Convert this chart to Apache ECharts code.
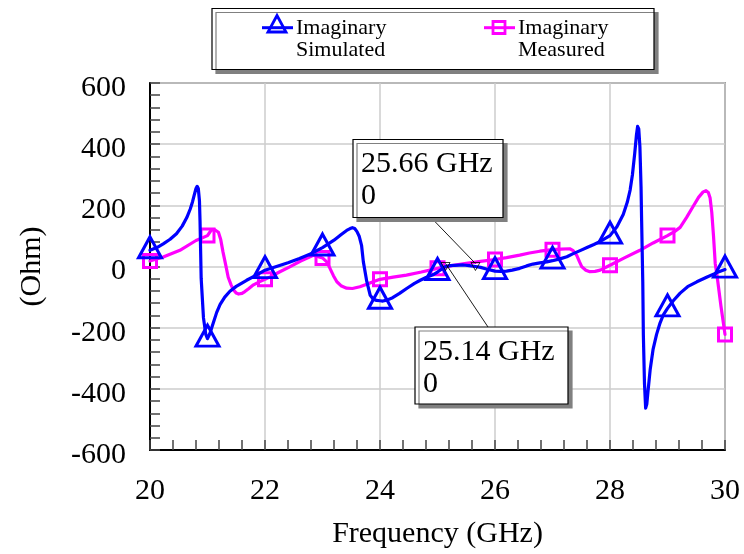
<!DOCTYPE html>
<html>
<head>
<meta charset="utf-8">
<script src="https://cdn.jsdelivr.net/npm/echarts@6/dist/echarts.min.js"></script>
<style>html,body{margin:0;padding:0;background:#fff}#c{width:744px;height:554px}</style>
</head>
<body>
<div id="c"></div>
<script>
// ---- data ----
const simFreq = [20.0, 20.12, 20.23, 20.35, 20.46, 20.56, 20.64, 20.7, 20.74, 20.77, 20.8, 20.82, 20.84, 20.86, 20.87, 20.89, 20.93, 20.97, 21.0, 21.04, 21.1, 21.16, 21.22, 21.3, 21.39, 21.5, 21.68, 21.85, 22.0, 22.2, 22.4, 22.6, 22.8, 23.0, 23.2, 23.32, 23.42, 23.48, 23.52, 23.56, 23.6, 23.64, 23.68, 23.71, 23.77, 23.83, 23.88, 23.94, 24.0, 24.05, 24.12, 24.22, 24.34, 24.47, 24.6, 24.7, 24.8, 24.92, 25.0, 25.07, 25.14, 25.22, 25.3, 25.45, 25.55, 25.66, 25.75, 25.85, 26.0, 26.1, 26.2, 26.3, 26.43, 26.55, 26.66, 26.78, 26.9, 27.0, 27.13, 27.25, 27.36, 27.48, 27.6, 27.72, 27.83, 28.0, 28.12, 28.23, 28.3, 28.35, 28.39, 28.43, 28.46, 28.48, 28.5, 28.52, 28.54, 28.55, 28.57, 28.58, 28.6, 28.62, 28.64, 28.66, 28.7, 28.75, 28.81, 28.87, 28.93, 29.0, 29.1, 29.22, 29.35, 29.51, 29.68, 29.86, 30.0];
const simValues = [53, 62, 74, 89, 107, 132, 160, 188, 212, 234, 255, 262, 255, 215, 150, -39, -168, -222, -236, -220, -185, -150, -124, -100, -81, -65, -45, -28, -12, 0, 12, 26, 42, 62, 86, 104, 118, 124, 127, 124, 114, 98, 68, 16, -49, -94, -106, -111, -112, -113, -110, -102, -88, -71, -55, -45, -36, -27, -18, -9, 0, 3, 4, 5, 3, 0, -3, -8, -15, -16, -15, -12, -6, 2, 8, 12, 15, 19, 25, 32, 42, 52, 62, 72, 82, 101, 130, 170, 210, 250, 300, 370, 430, 458, 450, 392, 260, 150, -50, -222, -384, -463, -450, -410, -335, -270, -222, -185, -157, -137, -112, -87, -66, -50, -35, -20, -10];
const measFreq = [20.0, 20.23, 20.52, 20.8, 21.0, 21.04, 21.07, 21.12, 21.19, 21.23, 21.27, 21.32, 21.36, 21.41, 21.45, 21.5, 21.54, 21.6, 21.65, 21.72, 21.8, 21.9, 22.0, 22.09, 22.25, 22.43, 22.62, 22.84, 23.0, 23.07, 23.13, 23.19, 23.25, 23.33, 23.42, 23.52, 23.65, 23.77, 23.88, 24.0, 24.23, 24.46, 24.72, 25.0, 25.25, 25.5, 25.75, 26.0, 26.2, 26.43, 26.6, 26.78, 27.0, 27.15, 27.3, 27.36, 27.42, 27.47, 27.51, 27.58, 27.65, 27.74, 27.83, 28.0, 28.25, 28.52, 28.75, 29.0, 29.12, 29.22, 29.33, 29.45, 29.54, 29.62, 29.67, 29.71, 29.74, 29.77, 29.8, 29.83, 29.86, 29.93, 30.0];
const measValues = [18, 31, 53, 85, 101, 112, 119, 121, 112, 88, 47, 2, -35, -60, -76, -87, -90, -88, -82, -72, -60, -50, -42, -34, -18, -1, 18, 37, 28, 16, -6, -30, -50, -64, -71, -72, -66, -58, -50, -42, -35, -28, -18, -6, 3, 10, 17, 23, 29, 37, 44, 50, 55, 57, 58, 52, 37, 15, -1, -12, -17, -16, -12, 4, 28, 53, 77, 101, 114, 128, 160, 198, 226, 244, 248, 242, 225, 177, 100, 10, -28, -130, -222];
const markerFreqs = [20, 21, 22, 23, 24, 25, 26, 27, 28, 29, 30];
const xTicks = [20, 22, 24, 26, 28, 30];
const yTicks = [-600, -400, -200, 0, 200, 400, 600];
const annotFreq = [25.66, 25.14];
const annotValue = [0, 0];
const seriesNames = ['Imaginary\nSimulated', 'Imaginary\nMeasured'];

const SERIF = '"Liberation Serif","Times New Roman",serif';
const BLUE = '#0000ff', MAG = '#ff00ff';

function build(freq, vals, sym, size, offset) {
  return freq.map((f, i) => {
    const isM = markerFreqs.some(m => Math.abs(m - f) < 1e-9);
    return { value: [f, vals[i]], symbol: isM ? sym : 'none', symbolSize: size, symbolOffset: offset };
  });
}

const chart = echarts.init(document.getElementById('c'), null, { renderer: 'canvas' });
const option = {
  animation: false,
  backgroundColor: '#fff',
  grid: { left: 150, right: 19, top: 83, bottom: 101, show: true, borderColor: '#555', borderWidth: 1.5, backgroundColor: 'transparent' },
  xAxis: {
    type: 'value', min: xTicks[0], max: xTicks[xTicks.length - 1], interval: 2,
    name: 'Frequency (GHz)', nameLocation: 'middle', nameGap: 69,
    nameTextStyle: { fontFamily: SERIF, fontSize: 30, color: '#000' },
    axisLine: { show: true, onZero: false, lineStyle: { color: '#000', width: 2 } },
    axisTick: { show: true, inside: true, length: 10, lineStyle: { color: '#444', width: 1.5 } },
    minorTick: { show: true, splitNumber: 5, length: 10, lineStyle: { color: '#444', width: 1.5 } },
    axisLabel: { fontFamily: SERIF, fontSize: 30, color: '#000', margin: 26 },
    splitLine: { show: true, lineStyle: { color: '#cccccc', width: 1.5 } }
  },
  yAxis: {
    type: 'value', min: yTicks[0], max: yTicks[yTicks.length - 1], interval: 200,
    name: '(Ohm)', nameLocation: 'middle', nameGap: 103, nameRotate: 90,
    nameTextStyle: { fontFamily: SERIF, fontSize: 30, color: '#000' },
    axisLine: { show: true, onZero: false, lineStyle: { color: '#000', width: 2 } },
    axisTick: { show: true, inside: true, length: 10, lineStyle: { color: '#444', width: 1.5 } },
    minorTick: { show: true, splitNumber: 5, length: 10, lineStyle: { color: '#444', width: 1.5 } },
    axisLabel: {
      margin: 24,
      formatter: v => '{a|' + v + '}',
      rich: { a: { fontFamily: SERIF, fontSize: 30, color: '#000', padding: [10, 0, 0, 0] } }
    },
    splitLine: { show: true, lineStyle: { color: '#cccccc', width: 1.5 } }
  },
  series: [
    {
      name: seriesNames[1], type: 'line', smooth: false, showAllSymbol: true,
      data: build(measFreq, measValues, 'rect', 13, [0, 0]),
      lineStyle: { color: MAG, width: 3.2, join: 'round', cap: 'round' },
      itemStyle: { color: 'rgba(0,0,0,0)', borderColor: MAG, borderWidth: 3 },
      z: 3
    },
    {
      name: seriesNames[0], type: 'line', smooth: false, showAllSymbol: true,
      data: build(simFreq, simValues, 'triangle', [23, 21], [0, -3]),
      lineStyle: { color: BLUE, width: 3.2, join: 'round', cap: 'round' },
      itemStyle: { color: 'rgba(0,0,0,0)', borderColor: BLUE, borderWidth: 3 },
      markPoint: {
        symbol: 'path://M0,0 L10,0 L5,9 Z', symbolSize: [9, 8],
        itemStyle: { color: 'rgba(0,0,0,0)', borderColor: '#000', borderWidth: 0.8 },
        label: { show: false },
        data: annotFreq.map((f, i) => ({ coord: [f, annotValue[i]] }))
      },
      z: 4
    }
  ]
};
chart.setOption(option);

// ---- legend & annotations (graphic) ----
const g = [];
g.push({ type: 'rect', shape: { x: 212, y: 8.5, width: 442, height: 61 },
  style: { fill: '#fff', stroke: '#000', lineWidth: 1.2, shadowColor: '#808080', shadowOffsetX: 4, shadowOffsetY: 4, shadowBlur: 0 }, z: 10 });
const legendItems = [
  { x0: 262, color: BLUE, kind: 'tri', text: seriesNames[0] },
  { x0: 484, color: MAG, kind: 'sq', text: seriesNames[1] }
];
legendItems.forEach(it => {
  g.push({ type: 'line', shape: { x1: it.x0, y1: 27.7, x2: it.x0 + 31, y2: 27.7 }, style: { stroke: it.color, lineWidth: 3 }, z: 11 });
  const cx = it.x0 + 15;
  if (it.kind === 'tri') {
    g.push({ type: 'polygon', shape: { points: [[cx - 9, 32], [cx + 9, 32], [cx, 15.5]] }, style: { fill: 'none', stroke: it.color, lineWidth: 2.8 }, z: 11 });
  } else {
    g.push({ type: 'rect', shape: { x: cx - 6, y: 21.5, width: 12, height: 12 }, style: { fill: 'none', stroke: it.color, lineWidth: 2.8 }, z: 11 });
  }
  const lines = it.text.split('\n');
  lines.forEach((t, k) => {
    g.push({ type: 'text', x: it.x0 + 34, y: 28.5 + k * 21.5,
      style: { text: t, font: '22px ' + SERIF, fill: '#000', verticalAlign: 'middle', align: 'left' }, z: 11 });
  });
});

const boxes = [
  { x: 353, y: 139.5, w: 150, h: 78, ax: 431, ay: 217.5 },
  { x: 415, y: 327, w: 153, h: 77, ax: 488, ay: 327 }
];
annotFreq.forEach((f, i) => {
  const p = chart.convertToPixel({ gridIndex: 0 }, [f, annotValue[i]]);
  const b = boxes[i];
  g.push({ type: 'line', shape: { x1: b.ax, y1: b.ay, x2: p[0], y2: p[1] - 3 }, style: { stroke: '#000', lineWidth: 0.9 }, z: 12 });
  g.push({ type: 'rect', shape: { x: b.x, y: b.y, width: b.w, height: b.h },
    style: { fill: '#fff', stroke: '#000', lineWidth: 1.2, shadowColor: '#808080', shadowOffsetX: 4, shadowOffsetY: 4, shadowBlur: 0 }, z: 13 });
  g.push({ type: 'text', x: b.x + 8, y: b.y + 25, style: { text: f.toFixed(2) + ' GHz', font: '30px ' + SERIF, fill: '#000', verticalAlign: 'middle' }, z: 14 });
  g.push({ type: 'text', x: b.x + 8, y: b.y + 57, style: { text: String(annotValue[i]), font: '30px ' + SERIF, fill: '#000', verticalAlign: 'middle' }, z: 14 });
});
chart.setOption({ graphic: g });
</script>
</body>
</html>
